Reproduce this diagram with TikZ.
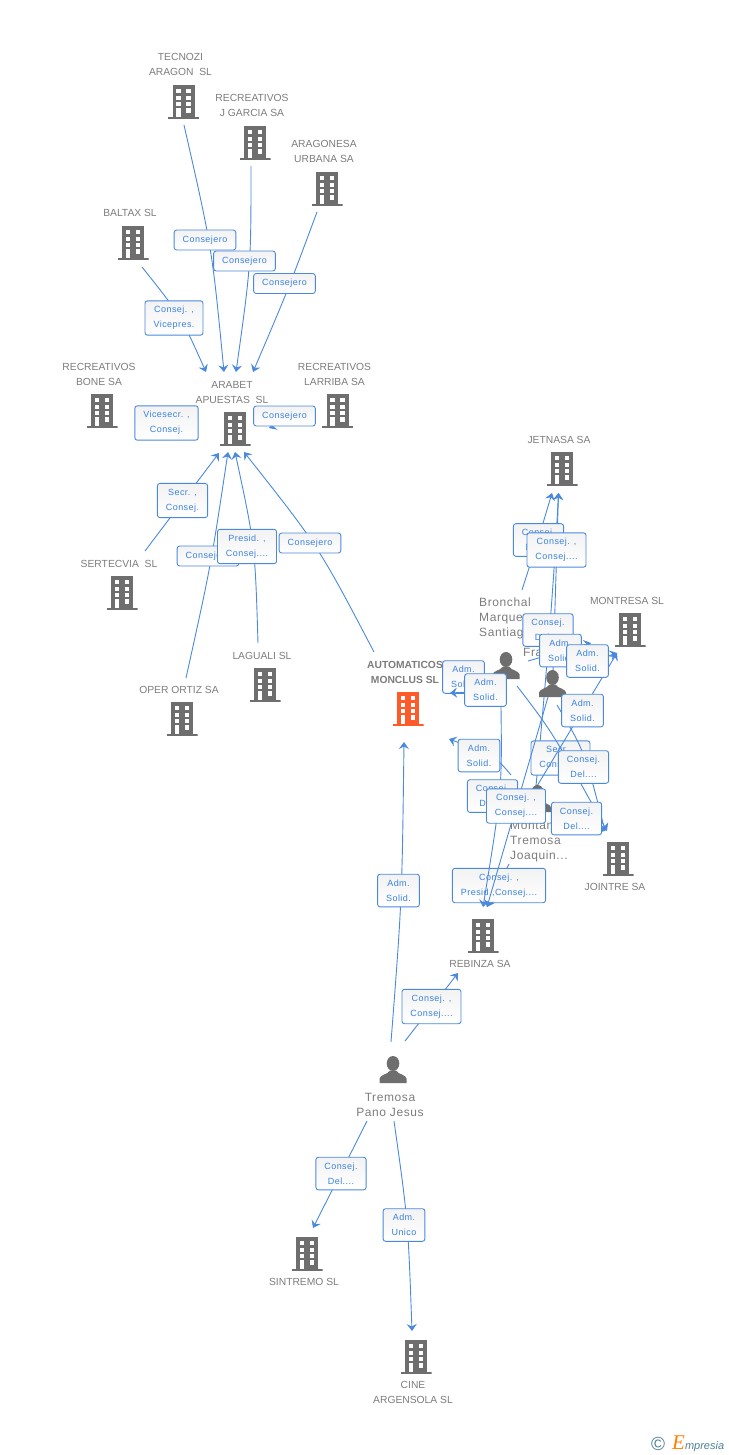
\documentclass[tikz,border=0pt]{standalone}
\usepackage{fontspec}
\setmainfont{Liberation Sans}
\newfontfamily\rolefont[LetterSpace=5]{Liberation Sans}
\newfontfamily\logofont{Liberation Serif}
\usetikzlibrary{arrows.meta,
                positioning}
\definecolor{linkblue}{HTML}{4A89DC}
\definecolor{roleblue}{HTML}{3B82E0}
\definecolor{bldggrey}{HTML}{6E6E6E}
\definecolor{textgrey}{HTML}{7C7C7C}
\definecolor{mainorange}{HTML}{FF5A2A}
\definecolor{logoslate}{HTML}{4F7F95}
\newcommand{\bldgicon}[1]{%
    \begin{scope}[x=1pt,y=-1pt,shift={(path picture bounding box.center)}]
        \fill[#1] (-11,-17) rectangle (11,15);
        \fill[#1] (-15.5,15) rectangle (15.5,17);
        \foreach \yy in {-13,-6.4,-0.4}{
            \fill[white] (-7.2,\yy) rectangle (-2.8,\yy+4);
            \fill[white] (2.8,\yy) rectangle (7.2,\yy+4);
        }
        \fill[white] (-7.2,6.3) rectangle (-2.8,15);
        \fill[white] (2.8,6.3) rectangle (7.2,10.8);
    \end{scope}}
\newcommand{\personaicon}{%
    \begin{scope}[x=1pt,y=-1pt,shift={(path picture bounding box.center)}]
        \fill[bldggrey] (0,-6) ellipse (6.3 and 7.5);
        \fill[bldggrey] (-13.5,13.5) -- (-13.5,9) .. controls (-13,5) and (-5,5) .. (-3,1)
            -- (3,1) .. controls (5,5) and (13,5) .. (13.5,9) -- (13.5,13.5) -- cycle;
    \end{scope}}
\tikzset{
    bldg/.style={minimum width=31pt, minimum height=34pt, inner sep=0pt,
                 path picture={\bldgicon{#1}}},
    bldg/.default=bldggrey,
    persona/.style={minimum width=27pt, minimum height=27pt, inner sep=0pt,
                    path picture={\personaicon}},
    firm/.style={text=textgrey, align=center, inner sep=0pt,
                 font=\fontsize{10.3}{15}\selectfont},
    above firm/.style={firm, above=8.5pt of #1, xshift=-3pt},
    below firm/.style={firm, below=7pt of #1, xshift=-3pt},
    who/.style={text=textgrey, inner sep=0pt,
                font=\rolefont\fontsize{12}{15}\selectfont},
    role/.style={draw=linkblue, line width=0.9pt, rounded corners=2.5pt,
                 top color=black!5, bottom color=white, text=roleblue,
                 align=center, inner xsep=8.5pt, inner ysep=5.5pt, minimum height=20pt,
                 font=\rolefont\fontsize{9}{15}\selectfont},
    link/.style={draw=linkblue, line width=0.9pt,
                 -{Stealth[length=7pt,width=10pt,inset=2.5pt]}},
}

\begin{document}
\begin{tikzpicture}[x=1pt,y=-1pt]
    \useasboundingbox (0,0) rectangle (728,1455);

    % firms
    \node[bldg] (tecnozi) at (183.5,102) {};
    \node[bldg] (garcia) at (255,143) {};
    \node[bldg] (aragonesa) at (327,189) {};
    \node[bldg] (baltax) at (133,243) {};
    \node[bldg] (bone) at (102,411) {};
    \node[bldg] (larriba) at (337.5,411) {};
    \node[bldg] (arabet) at (235,429) {};
    \node[bldg] (sertecvia) at (122,593) {};
    \node[bldg] (laguali) at (265,685) {};
    \node[bldg] (oper) at (182,719) {};
    \node[bldg=mainorange] (monclus) at (408,709) {};
    \node[bldg] (jetnasa) at (562,469) {};
    \node[bldg] (montresa) at (630,630) {};
    \node[bldg] (jointre) at (618,859) {};
    \node[bldg] (rebinza) at (483,936) {};
    \node[bldg] (sintremo) at (307,1254) {};
    \node[bldg] (cine) at (416,1357) {};

    \node[above firm=tecnozi] (tecnoziT) {TECNOZI\\ARAGON\ \ SL};
    \node[above firm=garcia] (garciaT) {RECREATIVOS\\J GARCIA SA};
    \node[above firm=aragonesa] (aragonesaT) {ARAGONESA\\URBANA SA};
    \node[above firm=baltax] (baltaxT) {BALTAX SL};
    \node[above firm=bone] (boneT) {RECREATIVOS\\BONE SA};
    \node[above firm=larriba] (larribaT) {RECREATIVOS\\LARRIBA SA};
    \node[above firm=arabet] (arabetT) {ARABET\\APUESTAS\ \ SL};
    \node[above firm=sertecvia] (sertecviaT) {SERTECVIA\ \ SL};
    \node[above firm=laguali] (lagualiT) {LAGUALI SL};
    \node[above firm=oper] (operT) {OPER ORTIZ SA};
    \node[above firm=monclus, font=\bfseries\fontsize{10.3}{15}\selectfont] (monclusT) {AUTOMATICOS\\MONCLUS SL};
    \node[above firm=jetnasa] (jetnasaT) {JETNASA SA};
    \node[above firm=montresa] (montresaT) {MONTRESA SL};
    \node[below firm=jointre] (jointreT) {JOINTRE SA};
    \node[below firm=rebinza] (rebinzaT) {REBINZA SA};
    \node[below firm=sintremo] (sintremoT) {SINTREMO SL};
    \node[below firm=cine] (cineT) {CINE\\ARGENSOLA SL};

    % ends of the connectors
    \coordinate (tecnoziS) at (184,125);
    \coordinate (garciaS) at (251,166);
    \coordinate (aragonesaS) at (317,212);
    \coordinate (baltaxS) at (142,267);
    \coordinate (larribaS) at (314,408);
    \coordinate (sertecviaS) at (145,551);
    \coordinate (operS) at (186,678);
    \coordinate (lagualiS) at (258,643);
    \coordinate (monclusS) at (374,652);
    \coordinate (arabetA) at (206,372);
    \coordinate (arabetB) at (224,372);
    \coordinate (arabetC) at (236,372);
    \coordinate (arabetD) at (253,372);
    \coordinate (arabetE) at (269,428);
    \coordinate (arabetF) at (219,453);
    \coordinate (arabetG) at (228,452);
    \coordinate (arabetH) at (235,452);
    \coordinate (arabetI) at (244,452);
    \coordinate (monclusA) at (404,742);
    \coordinate (monclusB) at (450,693);
    \coordinate (monclusC) at (449,739);
    \coordinate (jetnasaA) at (552,493);
    \coordinate (jetnasaB) at (558.5,493);
    \coordinate (montresaA) at (591,643);
    \coordinate (montresaB) at (617,653);
    \coordinate (jointreA) at (605,831);
    \coordinate (jointreB) at (607,831);
    \coordinate (rebinzaA) at (483,907);
    \coordinate (rebinzaB) at (487,907);
    \coordinate (rebinzaC) at (458,973);
    \coordinate (sintremoN) at (313,1228);
    \coordinate (cineN) at (412,1331);
    \coordinate (tremosaA) at (391,1042);
    \coordinate (tremosaB) at (405,1041);
    \coordinate (tremosaC) at (367,1121);
    \coordinate (tremosaD) at (394,1121);
    \coordinate (bronchalA) at (522,590);
    \coordinate (bronchalB) at (528,661);
    \coordinate (bronchalC) at (470,692);
    \coordinate (bronchalD) at (501,707);
    \coordinate (bronchalE) at (517,686);
    \coordinate (francoA) at (553,672);
    \coordinate (francoB) at (567,670);
    \coordinate (francoC) at (548,697);
    \coordinate (francoD) at (557,705);
    \coordinate (montanA) at (536,786);
    \coordinate (montanB) at (537,786);
    \coordinate (montanC) at (511,775);
    \coordinate (montanD) at (509,864);
    \coordinate (montanE) at (575,818);

    % left group
    \draw[link] (tecnoziS) .. controls (212,248) .. (arabetB);
    \draw[link] (garciaS) .. controls (251,265) .. (arabetC);
    \draw[link] (aragonesaS) .. controls (288,290) .. (arabetD);
    \draw[link] (baltaxS) .. controls (181,316) .. (arabetA);
    \draw[link] (larribaS) -- (arabetE);
    \draw[link] (sertecviaS) -- (arabetF);
    \draw[link] (operS) .. controls (211,565) .. (arabetG);
    \draw[link] (lagualiS) .. controls (255,545) .. (arabetH);
    \draw[link] (monclusS) .. controls (319,547) .. (arabetI);

    \node[role] (consejA) at (205,240) {Consejero};
    \node[role] (consejB) at (244.5,261) {Consejero};
    \node[role] (consejC) at (284.5,283.5) {Consejero};
    \node[role] (vicepres) at (174,318) {Consej. ,\\Vicepres.};
    \node[role] (vicesecr) at (166.5,423) {Vicesecr. ,\\Consej.};
    \node[role] (consejD) at (284.5,416) {Consejero};
    \node[role] (secr) at (182.5,500.5) {Secr. ,\\Consej.};
    \node[role] (consejE) at (208,556) {Consejero};
    \node[role] (presid) at (247,546.5) {Presid. ,\\Consej....};
    \node[role] (consejF) at (310,543) {Consejero};

    % bottom group
    \draw[link] (tremosaA) .. controls (402,900) .. (monclusA);
    \draw[link] (tremosaB) -- (rebinzaC);
    \draw[link] (tremosaC) -- (sintremoN);
    \draw[link] (tremosaD) .. controls (408,1220) .. (cineN);

    \node[role] (admA) at (398.5,890.5) {Adm.\\Solid.};
    \node[role] (consejG) at (431.5,1006.5) {Consej. ,\\Consej....};
    \node[role] (delA) at (341,1173.5) {Consej.\\Del....};
    \node[role] (unico) at (404,1225) {Adm.\\Unico};

    \node[persona] (tremosa) at (393,1069.5) {};
    \node[who, align=center] (tremosaT) at (390,1104.5) {Tremosa\\Pano Jesus};

    % right group
    \draw[link] (bronchalA) .. controls (538,540) .. (jetnasaA);
    \draw[link] (francoA) -- (jetnasaB);
    \draw[link] (montanA) .. controls (544,700) and (553,600) .. (jetnasaB);
    \draw[link] (montanD) -- (rebinzaB);
    \node[role] (delB) at (538.5,540) {Consej.\\Del....};
    \node[role] (consejH) at (556.5,550) {Consej. ,\\Consej....};
    \node[role] (presidB) at (499,885.5) {Consej. ,\\Presid.,Consej....};
    \node[role] (secrB) at (560.5,758) {Secr. ,\\Consej....};

    \draw[link] (bronchalD) .. controls (502,790) .. (rebinzaA);
    \draw[link] (francoC) -- (rebinzaB);
    \draw[link] (montanB) -- (montresaB);
    \draw[link] (francoD) .. controls (585,752) .. (jointreA);
    \draw[link] (bronchalE) .. controls (553,733) .. (jointreB);
    \draw[link] (montanE) -- (jointreA);
    \draw[link] (bronchalB) -- (montresaA);
    \draw[link] (francoB) -- (montresaB);
    \draw[link] (montanC) .. controls (495,756) .. (monclusC);

    \node[persona] (bronchal) at (506,665.5) {};
    \node[persona] (franco) at (552.5,683.5) {};
    \node[persona] (montan) at (537.5,798.5) {};
    \node[who, align=left, anchor=north west] (bronchalT) at (479,598) {Bronchal\\Marque...\\Santiago};
    \node[who, anchor=west] (francoT) at (523,652) {Fra...};
    \node[who, align=left, anchor=north west] (montanT) at (510,821.5) {Montan...\\Tremosa\\Joaquin...};

    \node[role] (delC) at (548,630) {Consej.\\Del....};
    \node[role] (admB) at (463.5,677) {Adm.\\Solid.};
    \draw[link] (bronchalC) -- (monclusB);
    \node[role] (admC) at (485.5,690) {Adm.\\Solid.};
    \node[role] (admD) at (560.5,650.5) {Adm.\\Solid.};
    \node[role] (admE) at (587.5,661) {Adm.\\Solid.};
    \node[role] (admF) at (582.5,710.5) {Adm.\\Solid.};
    \node[role] (admG) at (479,755.5) {Adm.\\Solid.};
    \node[role] (delD) at (583.5,767) {Consej.\\Del....};
    \node[role] (delE) at (492.5,796) {Consej.\\Del....};
    \node[role] (consejI) at (516,806) {Consej. ,\\Consej....};
    \node[role] (delF) at (576.5,818.5) {Consej.\\Del....};

    % logo
    \node[inner sep=0pt, text=logoslate, font=\fontsize{19}{19}\selectfont] (copyr) at (658,1444) {©};
    \node[inner sep=0pt, anchor=base west, text=logoslate] (brand) at (672,1449)
        {{\logofont\itshape\fontsize{21}{21}\selectfont\color{orange}E}{\itshape\fontsize{11}{11}\selectfont mpresia}};
\end{tikzpicture}
\end{document}
